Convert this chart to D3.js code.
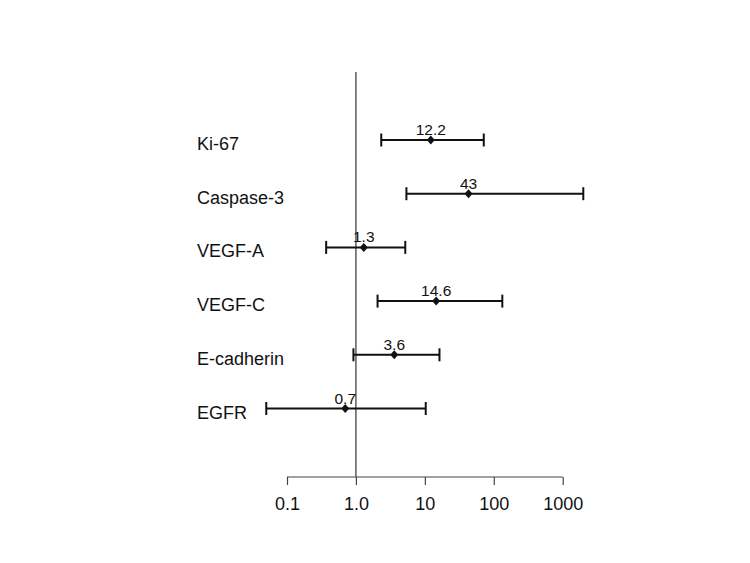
<!DOCTYPE html>
<meta charset='utf-8'>
<head>
    <title>Forest plot</title>
    <script src='https://cdn.jsdelivr.net/npm/d3@7/dist/d3.min.js'></script>
</head>

<style>
    body { margin: 0; background: white; }
    text { font-family: Arial, 'Liberation Sans', sans-serif; fill: #111; }
    .ci { stroke: #111; stroke-width: 2px; fill: none; }
    .ref { stroke: #333; stroke-width: 1.2px; }
    .axis path, .axis line { stroke: #444; stroke-width: 1.2px; }
</style>

<svg></svg>

<script>
    var vWidth = 750;
    var vHeight = 563;

    // data
    var markers = ['Ki-67', 'Caspase-3', 'VEGF-A', 'VEGF-C', 'E-cadherin', 'EGFR'];
    var estimate = [12.2, 43, 1.3, 14.6, 3.6, 0.7];
    var lower = [2.33, 5.4, 0.37, 2.06, 0.92, 0.05];
    var upper = [71.6, 1990, 5.2, 133, 16.3, 10.3];
    var estLabels = ['12.2', '43', '1.3', '14.6', '3.6', '0.7'];
    var tickValues = [0.1, 1, 10, 100, 1000];
    var tickLabels = ['0.1', '1.0', '10', '100', '1000'];

    var rows = markers.map(function (m, i) {
        return {name: m, est: estimate[i], lo: lower[i], hi: upper[i], label: estLabels[i]};
    });

    var svg = d3.select('svg').attr('width', vWidth).attr('height', vHeight);

    var x = d3.scaleLog().domain([0.1, 1000]).range([287, 562.7]);
    var y = d3.scalePoint().domain(markers).range([140, 408.5]);
    var axisY = 477;

    // reference line at 1
    svg.append('line').attr('class', 'ref')
        .attr('x1', x(1)).attr('x2', x(1))
        .attr('y1', 72).attr('y2', axisY);

    // x axis
    var axis = d3.axisBottom(x).tickValues(tickValues).tickSize(8).tickSizeOuter(0)
        .tickFormat(function (d, i) { return tickLabels[i]; });
    var ga = svg.append('g').attr('class', 'axis')
        .attr('transform', 'translate(0,' + axisY + ')').call(axis);
    ga.select('.domain').attr('d', 'M' + x(0.1) + ',0H' + x(1000));
    ga.selectAll('text').attr('dy', 0).attr('y', 33)
        .style('font-size', '18px').style('font-family', 'Arial, "Liberation Sans", sans-serif').attr('fill', '#111');

    // rows
    var g = svg.selectAll('g.row').data(rows).enter().append('g').attr('class', 'row')
        .attr('transform', function (d) { return 'translate(0,' + y(d.name) + ')'; });

    g.append('text').attr('x', 197).attr('y', 10)
        .style('font-size', '18px').text(function (d) { return d.name; });

    g.append('line').attr('class', 'ci')
        .attr('x1', function (d) { return x(d.lo); })
        .attr('x2', function (d) { return x(d.hi); });
    g.append('line').attr('class', 'ci')
        .attr('x1', function (d) { return x(d.lo); }).attr('x2', function (d) { return x(d.lo); })
        .attr('y1', -6.5).attr('y2', 6.5);
    g.append('line').attr('class', 'ci')
        .attr('x1', function (d) { return x(d.hi); }).attr('x2', function (d) { return x(d.hi); })
        .attr('y1', -6.5).attr('y2', 6.5);

    g.append('path')
        .attr('d', 'M0,-4.5L4,0L0,4.5L-4,0Z').attr('fill', '#111')
        .attr('transform', function (d) { return 'translate(' + x(d.est) + ',0)'; });

    g.append('text').attr('text-anchor', 'middle')
        .attr('x', function (d) { return x(d.est); }).attr('y', -5)
        .style('font-size', '15.5px').text(function (d) { return d.label; });
</script>
